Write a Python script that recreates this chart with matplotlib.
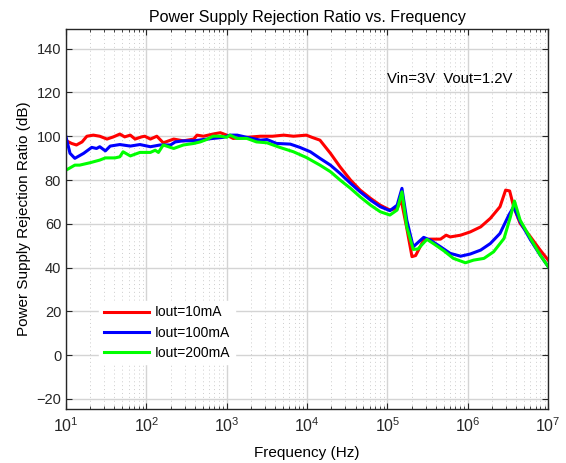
import numpy as np
import matplotlib
matplotlib.use("Agg")
import matplotlib.pyplot as plt
from matplotlib.ticker import LogLocator, NullFormatter

plt.rcParams['font.family'] = ['Liberation Sans', 'DejaVu Sans']
plt.rcParams['mathtext.fontset'] = 'custom'
plt.rcParams['mathtext.rm'] = 'Liberation Sans'

# log10(frequency / Hz) and PSRR (dB)
red_logf = [1.0, 1.07, 1.13, 1.20, 1.26, 1.34, 1.42, 1.51, 1.59, 1.67, 1.73, 1.80, 1.86, 1.94, 1.98,
            2.05, 2.13, 2.21, 2.34, 2.46, 2.59, 2.63, 2.71, 2.83, 2.92, 3.0, 3.08, 3.25, 3.42, 3.57,
            3.71, 3.83, 3.99, 4.06, 4.16, 4.29, 4.41, 4.54, 4.66, 4.79, 4.91, 5.03, 5.12, 5.17,
            5.24, 5.305, 5.35, 5.45, 5.53, 5.66, 5.73, 5.78, 5.91, 6.03, 6.16, 6.28, 6.40, 6.47,
            6.52, 6.57, 6.65, 6.78, 6.90, 7.0]
red_db = [98.0, 96.7, 96.0, 97.4, 100.0, 100.5, 100.0, 98.7, 99.7, 101.0, 99.7, 100.5, 98.7, 99.7, 100.0,
          98.7, 100.0, 97.0, 98.7, 97.9, 98.7, 100.5, 100.0, 101.0, 101.6, 100.5, 99.0, 99.5, 100.0, 100.0,
          100.5, 100.0, 100.5, 99.5, 98.2, 92.2, 86.0, 80.0, 75.4, 71.6, 68.5, 66.3, 67.0, 71.0,
          58.0, 45.0, 45.5, 52.6, 53.0, 53.0, 54.8, 54.0, 54.8, 56.3, 58.6, 62.5, 67.8, 75.4,
          75.0, 67.8, 60.2, 54.0, 48.0, 43.4]

blue_logf = [1.0, 1.05, 1.11, 1.22, 1.32, 1.38, 1.42, 1.49, 1.55, 1.67, 1.80, 1.92, 2.05, 2.17, 2.30,
             2.36, 2.46, 2.59, 2.71, 2.83, 2.96, 3.04, 3.13, 3.25, 3.42, 3.50, 3.62, 3.79, 3.91,
             4.04, 4.16, 4.29, 4.41, 4.54, 4.66, 4.79, 4.91, 5.03, 5.12, 5.18, 5.24, 5.32, 5.45,
             5.53, 5.66, 5.78, 5.91, 6.03, 6.16, 6.28, 6.40, 6.51, 6.57, 6.65, 6.78, 6.90, 7.0]
blue_db = [99.7, 92.2, 89.9, 92.2, 94.9, 94.4, 95.2, 93.3, 95.5, 96.2, 95.5, 96.2, 95.2, 96.0, 96.0,
           97.4, 97.9, 97.9, 98.5, 99.0, 99.5, 100.5, 100.5, 99.5, 98.2, 98.5, 96.7, 96.4, 94.9,
           92.9, 89.9, 86.8, 83.0, 78.5, 74.6, 70.8, 67.8, 66.0, 68.5, 76.2, 61.7, 49.5, 53.8,
           52.6, 49.5, 46.5, 45.2, 46.2, 48.0, 51.0, 55.6, 64.0, 67.8, 61.0, 52.6, 45.7, 40.4]

green_logf = [1.0, 1.11, 1.17, 1.30, 1.42, 1.49, 1.61, 1.67, 1.71, 1.80, 1.92, 2.05, 2.11, 2.15, 2.21,
              2.34, 2.46, 2.59, 2.67, 2.75, 2.83, 2.92, 3.0, 3.04, 3.13, 3.25, 3.37, 3.50, 3.66,
              3.83, 3.99, 4.16, 4.29, 4.41, 4.54, 4.66, 4.79, 4.91, 5.03, 5.12, 5.18, 5.24, 5.32,
              5.38, 5.49, 5.57, 5.70, 5.82, 5.97, 6.07, 6.20, 6.32, 6.45, 6.53, 6.58, 6.65, 6.78,
              6.90, 7.0]
green_db = [84.5, 86.8, 86.8, 87.9, 89.1, 90.1, 90.1, 90.6, 92.9, 91.0, 92.6, 92.6, 93.6, 92.6, 96.0,
            94.4, 96.0, 96.7, 97.4, 98.5, 100.0, 100.0, 99.5, 100.5, 99.0, 99.0, 97.4, 97.0, 94.9,
            92.9, 90.3, 86.8, 83.8, 80.0, 76.2, 72.3, 68.5, 65.5, 64.0, 66.3, 74.6, 58.6, 48.3,
            48.5, 52.9, 51.0, 47.7, 44.2, 42.2, 43.4, 44.2, 47.2, 53.3, 63.2, 70.4, 61.7, 53.3,
            45.7, 40.4]

labels = ['Iout=10mA', 'Iout=100mA', 'Iout=200mA']
colors = ['#ff0000', '#0000ff', '#00ff00']
yticks = [-20, 0, 20, 40, 60, 80, 100, 120, 140]
xtick_exps = [1, 2, 3, 4, 5, 6, 7]

fig = plt.figure(figsize=(5.66, 4.63), dpi=100)
ax = fig.add_axes([0.1166, 0.1166, 0.852, 0.8204])

series = [(red_logf, red_db), (blue_logf, blue_db), (green_logf, green_db)]
for (lf, db), lab, c in zip(series, labels, colors):
    ax.plot(10 ** np.array(lf), db, color=c, lw=2.2, label=lab)

ax.set_xscale('log')
ax.set_xlim(10, 1e7)
ax.set_ylim(-24.6, 148.9)
ax.set_yticks(yticks)
ax.set_xticks([10.0 ** e for e in xtick_exps])
ax.set_xticklabels([r'$10^{%d}$' % e for e in xtick_exps])
ax.xaxis.set_minor_locator(LogLocator(base=10, subs=np.arange(2, 10), numticks=100))
ax.xaxis.set_minor_formatter(NullFormatter())

ax.grid(True, which='major', color='#d4d4d4', lw=1.0, ls='-')
ax.grid(True, which='minor', axis='x', color='#cccccc', lw=0.7, ls=(0, (1, 3)))
ax.set_axisbelow(True)

ax.tick_params(which='both', direction='in', top=True, right=True, labelsize=10.5, colors='#262626')
ax.tick_params(axis='x', which='major', labelsize=11.5, pad=5)
ax.tick_params(which='major', length=4)
ax.tick_params(which='minor', length=2)
for s in ax.spines.values():
    s.set_color('#262626')
    s.set_linewidth(1.0)

ax.set_title('Power Supply Rejection Ratio vs. Frequency', fontsize=11.5, pad=5)
ax.set_xlabel('Frequency (Hz)', fontsize=11, labelpad=8)
ax.set_ylabel('Power Supply Rejection Ratio (dB)', fontsize=11)
ax.text(1e5, 126, 'Vin=3V  Vout=1.2V', fontsize=10.7, va='center', ha='left')

leg = ax.legend(loc='lower left', bbox_to_anchor=(0.055, 0.1), frameon=True, fontsize=10,
                handlelength=3.3, labelspacing=0.45, borderpad=0.3, handletextpad=0.4)
leg.get_frame().set_edgecolor('white')
leg.get_frame().set_facecolor('white')
leg.get_frame().set_alpha(1.0)

fig.savefig('out.png', dpi=100)
